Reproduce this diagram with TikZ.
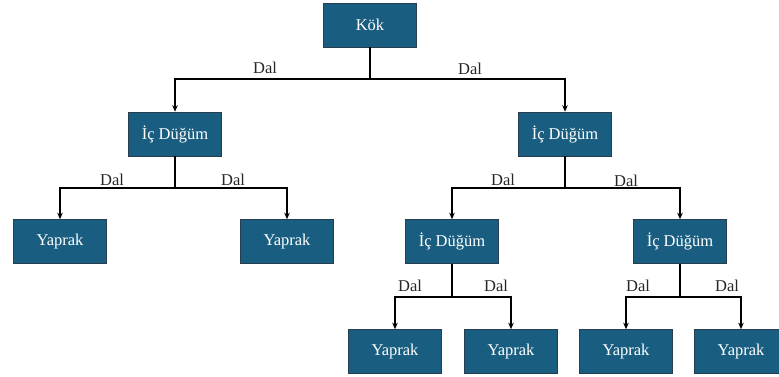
\documentclass[tikz,border=0pt]{standalone}
\usepackage{fontspec}
\setmainfont{Liberation Serif}
\usetikzlibrary{arrows.meta}
\definecolor{boxfill}{RGB}{25,94,128}
\definecolor{boxline}{RGB}{40,62,78}
\tikzset{
  treebox/.style={draw=boxline, line width=0.6pt, fill=boxfill, text=white,
    minimum width=93pt, minimum height=44pt, inner sep=0pt, font=\fontsize{16.5}{18}\selectfont},
  branch/.style={line width=1.7pt, -{Stealth[length=6.5pt,width=5.5pt]}},
  edgelabel/.style={inner sep=0pt, font=\fontsize{16.5}{18}\selectfont, text=black!85}
}
\begin{document}
\begin{tikzpicture}[x=1pt, y=-1pt]
  \useasboundingbox (0,0) rectangle (779,376);
  % nodes
  \node[treebox] (kok) at (370,25) {Kök};
  \node[treebox] (ic1) at (175,134) {İç Düğüm};
  \node[treebox] (ic2) at (565,134) {İç Düğüm};
  \node[treebox] (y1) at (60,241.5) {Yaprak};
  \node[treebox] (y2) at (287,241.5) {Yaprak};
  \node[treebox] (ic3) at (452,241.5) {İç Düğüm};
  \node[treebox] (ic4) at (680,241.5) {İç Düğüm};
  \node[treebox] (y3) at (395,351.5) {Yaprak};
  \node[treebox] (y4) at (511,351.5) {Yaprak};
  \node[treebox] (y5) at (626,351.5) {Yaprak};
  \node[treebox] (y6) at (741,351.5) {Yaprak};
  % branches
  \draw[branch] (kok.south) -- ++(0,32) -| (ic1.north);
  \draw[branch] (kok.south) -- ++(0,32) -| (ic2.north);
  \draw[branch] (ic1.south) -- ++(0,32) -| (y1.north);
  \draw[branch] (ic1.south) -- ++(0,32) -| (y2.north);
  \draw[branch] (ic2.south) -- ++(0,32) -| (ic3.north);
  \draw[branch] (ic2.south) -- ++(0,32) -| (ic4.north);
  \draw[branch] (ic3.south) -- ++(0,33) -| (y3.north);
  \draw[branch] (ic3.south) -- ++(0,33) -| (y4.north);
  \draw[branch] (ic4.south) -- ++(0,33) -| (y5.north);
  \draw[branch] (ic4.south) -- ++(0,33) -| (y6.north);
  % branch labels
  \node[edgelabel] (d1) at (265,68) {Dal};
  \node[edgelabel] (d2) at (470,69) {Dal};
  \node[edgelabel] (d3) at (112,180) {Dal};
  \node[edgelabel] (d4) at (233,180) {Dal};
  \node[edgelabel] (d5) at (503,180) {Dal};
  \node[edgelabel] (d6) at (626,181) {Dal};
  \node[edgelabel] (d7) at (410,286) {Dal};
  \node[edgelabel] (d8) at (496,286) {Dal};
  \node[edgelabel] (d9) at (638,286) {Dal};
  \node[edgelabel] (d10) at (727,286) {Dal};
\end{tikzpicture}
\end{document}
